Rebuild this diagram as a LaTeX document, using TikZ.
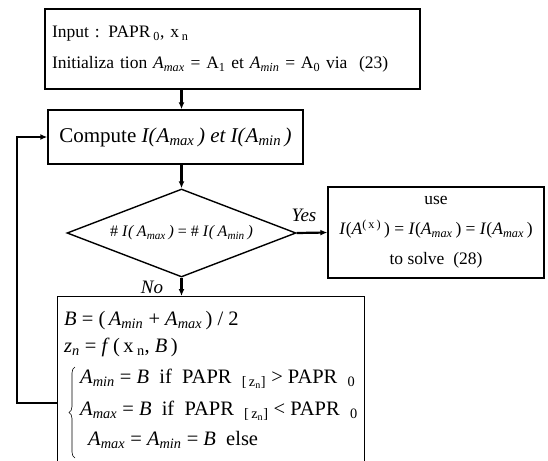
\documentclass[tikz,border=0pt]{standalone}
\usepackage{fontspec}
\setmainfont{Liberation Serif}
\usepackage{tikz}
\usetikzlibrary{shapes.geometric,arrows.meta,decorations.pathreplacing}

\newcommand{\Asub}[1]{\textit{A}\textsubscript{\textit{#1}}}
\newcommand{\PAPRz}{PAPR\enspace\textsubscript{[\,z\textsubscript{n}]}}

\begin{document}
\begin{tikzpicture}[x=1pt,y=-1pt,
    box/.style={draw, rectangle, line width=1.4pt, inner sep=6pt},
    flow/.style={line width=2.2pt, -{Latex[length=7pt,width=6pt]}},
    answer/.style={font=\fontsize{19}{19}\selectfont\itshape},
    line/.style={anchor=base west, inner sep=0pt, font=\fontsize{20.5}{23}\selectfont}]
    \useasboundingbox (0,0) rectangle (548,460);

    \node[box, minimum width=375, minimum height=80, text width=361, align=left, font=\fontsize{17.5}{31}\selectfont] (init) at (232.5,49)
        {Input : PAPR\,\textsubscript{0}, x\,\textsubscript{n}\\ Initializa tion \Asub{max} = A\textsubscript{1} et \Asub{min} = A\textsubscript{0} via~ (23)};
    \node[box, minimum width=255, minimum height=54, font=\fontsize{21}{21}\selectfont] (comp) at (175.5,137)
        {Compute \textit{I(}\Asub{max}\textit{\,) et I(}\Asub{min}\textit{\,)}};
    \node[draw, diamond, aspect=2.6, line width=1.4pt, minimum width=229, minimum height=88, inner sep=0pt, font=\fontsize{16}{16}\selectfont] (test) at (181.5,233)
        {\# \textit{I}\textit{(}\,\Asub{max}\,\textit{)} = \# \textit{I}\textit{(}\,\Asub{min}\,\textit{)}};
    \node[box, minimum width=216, minimum height=91, align=center, font=\fontsize{17.5}{30}\selectfont] (done) at (436,232.5)
        {use\\ \textit{I}(\textit{A}\textsuperscript{(\,x\,)}\,) = \textit{I}(\Asub{max}\,) = \textit{I}(\Asub{max}\,)\\ to solve~ (28)};
    \node[box, minimum width=307, minimum height=180, anchor=north west] (bis) at (57,296) {};

    \node[line] (half) at (64,325) {\textit{B} = (\,\Asub{min} + \Asub{max}\,) / 2};
    \node[line] (zn) at (64,352) {\textit{z}\textsubscript{\textit{n}} = \textit{f}\,(\,x\,\textsubscript{n}, \textit{B}\,)};
    \node[line] (lo) at (80,383) {\Asub{min} = \textit{B}~ if~ \PAPRz{} > PAPR\enspace\textsubscript{0}};
    \node[line] (hi) at (80,415) {\Asub{max} = \textit{B}~ if~ \PAPRz{} < PAPR\enspace\textsubscript{0}};
    \node[line] (eq) at (88,445) {\Asub{max} = \Asub{min} = \textit{B}~ else};
    \draw[line width=0.6pt, decorate, decoration={brace, amplitude=6pt}] (75,458) -- (75,367);

    \node[answer] (yes) at (304,215) {Yes};
    \node[answer] (no) at (152,287) {No};

    \draw[flow] (init.south -| test.north) -- (comp.north -| test.north);
    \draw[flow] (comp.south -| test.north) -- (test.north);
    \draw[flow] (test.east) -- (done.west);
    \draw[flow] (test.south) -- (test.south |- bis.north);
    \coordinate (back) at (17,403);
    \draw[flow] (bis.west |- back) -- (back) |- (comp.west);
\end{tikzpicture}
\end{document}
